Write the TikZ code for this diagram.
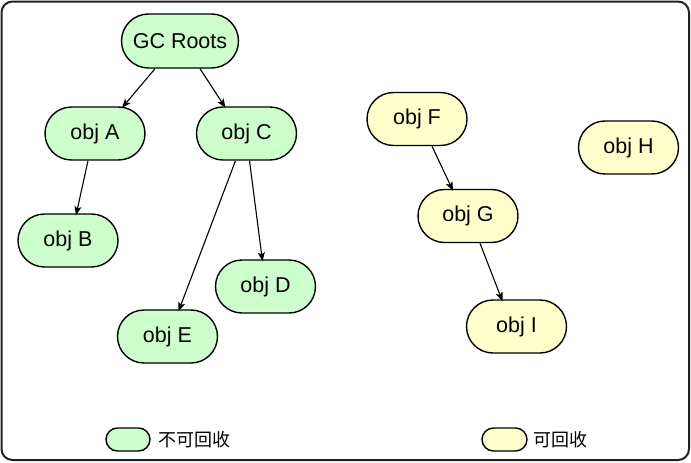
\documentclass[tikz,border=0pt]{standalone}
\usepackage{fontspec}
\setmainfont{Liberation Sans}
\newfontfamily\cjk{Noto Sans CJK SC}
\usetikzlibrary{arrows.meta}
\definecolor{keepgreen}{HTML}{CCFFCC}
\definecolor{freeyellow}{HTML}{FFFFCC}
\definecolor{framec}{HTML}{222222}
\tikzset{
  objbox/.style={draw=black, line width=1.4pt, rounded corners=26.5pt, minimum width=100pt, minimum height=53pt, inner sep=0pt, font=\fontsize{21.5}{25}\selectfont},
  keepobj/.style={objbox, fill=keepgreen},
  freeobj/.style={objbox, fill=freeyellow},
  legbox/.style={draw=black, line width=1.4pt, rounded corners=11.5pt, minimum width=44pt, minimum height=23pt, inner sep=0pt},
  legtext/.style={anchor=west, inner sep=0pt, font=\cjk\fontsize{18}{22}\selectfont},
  arr/.style={-{Stealth[length=9pt,width=7pt,inset=2pt]}, line width=1.1pt, black}
}
\begin{document}
\begin{tikzpicture}[x=1pt,y=-1pt]
\useasboundingbox (0,0) rectangle (691,463);
\draw[framec, line width=2pt, rounded corners=11pt] (1.5,1.5) rectangle (689,460);

\node[keepobj, minimum width=117pt, minimum height=54pt, rounded corners=27pt] (gc) at (180,41) {GC Roots};
\node[keepobj] (a) at (95,133.5) {obj A};
\node[keepobj] (c) at (246.5,133.5) {obj C};
\node[keepobj] (b) at (68,240.5) {obj B};
\node[keepobj] (d) at (265.5,286.5) {obj D};
\node[keepobj] (e) at (167.5,336.5) {obj E};
\node[freeobj] (f) at (417,119) {obj F};
\node[freeobj] (h) at (628.5,147.5) {obj H};
\node[freeobj] (g) at (468,216) {obj G};
\node[freeobj] (i) at (516.5,326.5) {obj I};

\draw[arr] ([xshift=-25pt]gc.south) -- ([xshift=27pt,yshift=-1.5pt]a.north);
\draw[arr] ([xshift=20pt]gc.south) -- ([xshift=-21pt,yshift=-1.5pt]c.north);
\draw[arr] ([xshift=-7pt]a.south) -- ([xshift=8pt,yshift=-2pt]b.north);
\draw[arr] ([xshift=-11pt]c.south) -- ([xshift=11pt,yshift=-2pt]e.north);
\draw[arr] ([xshift=3pt]c.south) -- ([xshift=-3pt,yshift=-2pt]d.north);
\draw[arr] ([xshift=15pt]f.south) -- ([xshift=-15pt,yshift=-2pt]g.north);
\draw[arr] ([xshift=12pt]g.south) -- ([xshift=-14pt,yshift=-2pt]i.north);

\node[legbox, fill=keepgreen] (lk) at (128,439.5) {};
\node[legtext] (lkt) at (158,439.5) {不可回收};
\node[legbox, fill=freeyellow, minimum width=45pt] (lf) at (504.5,439.5) {};
\node[legtext] (lft) at (533,439.5) {可回收};
\end{tikzpicture}
\end{document}
